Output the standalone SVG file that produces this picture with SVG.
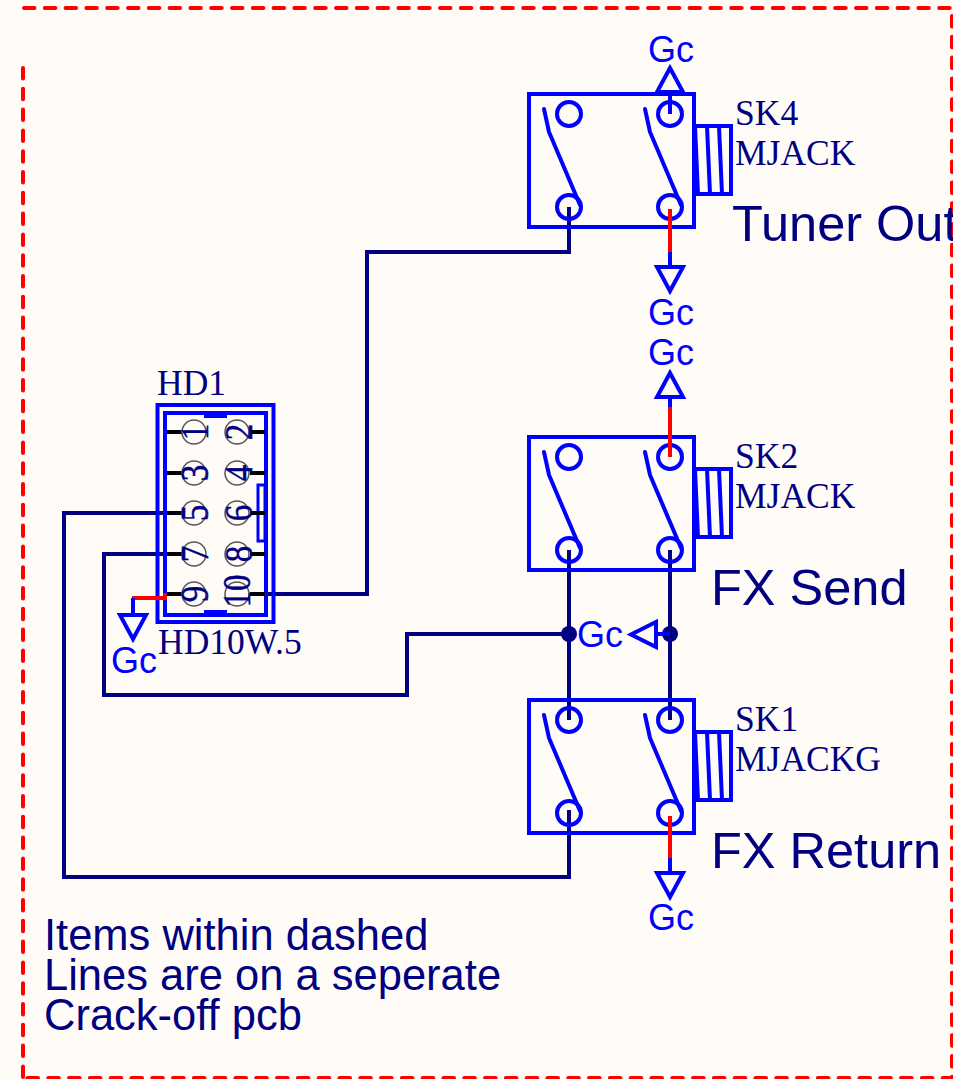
<svg xmlns="http://www.w3.org/2000/svg" xmlns:xlink="http://www.w3.org/1999/xlink" width="953" height="1079" viewBox="0 0 953 1079">
<style>
.b{fill:none;stroke:#0000ff;stroke-width:4;stroke-linecap:round;stroke-linejoin:miter}
.t{fill:none;stroke:#0000ff;stroke-width:4;stroke-linejoin:miter}
.w{fill:none;stroke:#000080;stroke-width:4;stroke-linecap:butt;stroke-linejoin:miter}
.r{fill:none;stroke:#ff0000;stroke-width:4}
.k{stroke:#000;stroke-width:4}
.d{fill:#000080}
.pc{fill:none;stroke:#555;stroke-width:1.5}
.s{font-family:"Liberation Serif",serif;fill:#000080}
.a{font-family:"Liberation Sans",sans-serif}
.gc{fill:#0000ff;font-size:36px;text-anchor:middle}
.lab{font-size:35.500px}
.big{fill:#000080;font-size:50.500px}
.note{fill:#000080;font-size:43.500px}
.n{font-size:33px;text-anchor:middle;stroke:#000080;stroke-width:.4}
.dash{fill:none;stroke:#ff0000;stroke-width:4;stroke-linecap:round;stroke-dasharray:10.500 10.300}
</style>
<defs>
<g id="jack">
<rect class="t" x="529" y="94" width="165" height="133"/>
<circle class="t" cx="569" cy="114" r="12"/>
<circle class="t" cx="670" cy="114" r="12"/>
<circle class="t" cx="569" cy="207" r="12"/>
<circle class="t" cx="670" cy="207" r="12"/>
<path class="b" d="M544 109L549 132L580 205"/>
<path class="b" d="M645 109L650 132L681 205"/>
<path class="t" d="M694 126H731V194H694M695 126L698 194M707 126L710 194M719 126L722 194"/>
</g>
<path id="gd" class="t" d="M-13 0H13L0 24Z"/>
<path id="gu" class="t" d="M-13 0H13L0 -24Z"/>
</defs>
<rect width="953" height="1079" fill="#fffcf8"/>
<g id="border"><path class="dash" d="M23 68V1078"/><path class="dash" d="M24 8H952V1078H23"/></g>
<g id="connectors">
<path class="w" d="M569 207V252H367V594H250"/>
<path class="w" d="M569 810V877H64V513H182"/>
<path class="w" d="M182 554H104V695H407V634H569"/>
<path class="w" d="M569 550V720M670 550V720"/>
<circle class="d" cx="569" cy="634" r="8"/>
<circle class="d" cx="670" cy="634" r="8"/>
</g>
<g id="SK4">
<use xlink:href="#jack" href="#jack"/>
<text class="s lab" x="735" y="125">SK4</text>
<text class="s lab" x="735" y="165">MJACK</text>
<text class="a big" x="732" y="241">Tuner Out</text>
</g>
<g id="SK2">
<use xlink:href="#jack" href="#jack" y="343"/>
<text class="s lab" x="735" y="468">SK2</text>
<text class="s lab" x="735" y="508">MJACK</text>
<text class="a big" x="711" y="605">FX Send</text>
</g>
<g id="SK1">
<use xlink:href="#jack" href="#jack" y="606"/>
<text class="s lab" x="735" y="731">SK1</text>
<text class="s lab" x="735" y="771">MJACKG</text>
<text class="a big" x="711" y="868">FX Return</text>
</g>
<g id="HD1">
<rect class="t" x="157.500" y="405" width="116" height="217"/>
<rect class="t" x="165" y="413" width="101" height="202"/>
<path class="t" style="stroke-width:5" d="M204 415.500H227M204 612.500H227"/>
<rect class="t" style="stroke-width:3" x="258" y="485" width="7" height="56"/>
<g class="k">
<path d="M167 432H182M167 473H182M167 513H182M167 554H182M167 594H182M250 432H265M250 473H265M250 513H265M250 554H265M250 594H265"/>
</g>
<g class="pc">
<circle cx="194" cy="432" r="12"/><circle cx="237" cy="432" r="12"/>
<circle cx="194" cy="473" r="12"/><circle cx="237" cy="473" r="12"/>
<circle cx="194" cy="513" r="12"/><circle cx="237" cy="513" r="12"/>
<circle cx="194" cy="554" r="12"/><circle cx="237" cy="554" r="12"/>
<circle cx="194" cy="594" r="12"/><circle cx="237" cy="594" r="12"/>
</g>
<g class="s n">
<text transform="translate(208 432) rotate(-90) scale(1 1.2)">1</text>
<text transform="translate(252 432) rotate(-90) scale(1 1.2)">2</text>
<text transform="translate(208 473) rotate(-90) scale(1 1.2)">3</text>
<text transform="translate(252 473) rotate(-90) scale(1 1.2)">4</text>
<text transform="translate(208 513) rotate(-90) scale(1 1.2)">5</text>
<text transform="translate(252 513) rotate(-90) scale(1 1.2)">6</text>
<text transform="translate(208 554) rotate(-90) scale(1 1.2)">7</text>
<text transform="translate(252 554) rotate(-90) scale(1 1.2)">8</text>
<text transform="translate(208 594) rotate(-90) scale(1 1.2)">9</text>
<text transform="translate(250 591) rotate(-90) scale(1 1.2)">10</text>
</g>
<text class="s lab" x="157" y="395">HD1</text>
<text class="s lab" x="158" y="654">HD10W.5</text>
</g>
<g id="gnd-hd1">
<path class="r" d="M132 598H165V593"/>
<path class="t" d="M133 598V615"/>
<use xlink:href="#gd" href="#gd" x="133" y="615"/>
<text class="a gc" x="134" y="673">Gc</text>
</g>
<g id="gnd-sk4-top">
<path class="t" d="M670 114V92"/>
<use xlink:href="#gu" href="#gu" x="670" y="92"/>
<text class="a gc" x="671" y="62">Gc</text>
</g>
<g id="gnd-sk4-bot">
<path class="r" d="M670 209V252"/>
<path class="t" d="M670 252V267"/>
<use xlink:href="#gd" href="#gd" x="670" y="267"/>
<text class="a gc" x="671" y="325">Gc</text>
</g>
<g id="gnd-sk2-top">
<path class="r" d="M670 407V457"/>
<path class="t" d="M670 397V407"/>
<use xlink:href="#gu" href="#gu" x="670" y="397"/>
<text class="a gc" x="671" y="365">Gc</text>
</g>
<g id="gnd-mid">
<path class="t" d="M656 634H670"/>
<path class="t" d="M656 622V647L631 634.500Z"/>
<text class="a gc" x="600" y="647">Gc</text>
</g>
<g id="gnd-sk1-bot">
<path class="r" d="M670 816V858"/>
<path class="t" d="M670 858V873"/>
<use xlink:href="#gd" href="#gd" x="670" y="873"/>
<text class="a gc" x="671" y="930">Gc</text>
</g>
<g id="note">
<text class="a note" x="44" y="950">Items within dashed</text>
<text class="a note" x="44" y="990">Lines are on a seperate</text>
<text class="a note" x="44" y="1030">Crack-off pcb</text>
</g>
</svg>
